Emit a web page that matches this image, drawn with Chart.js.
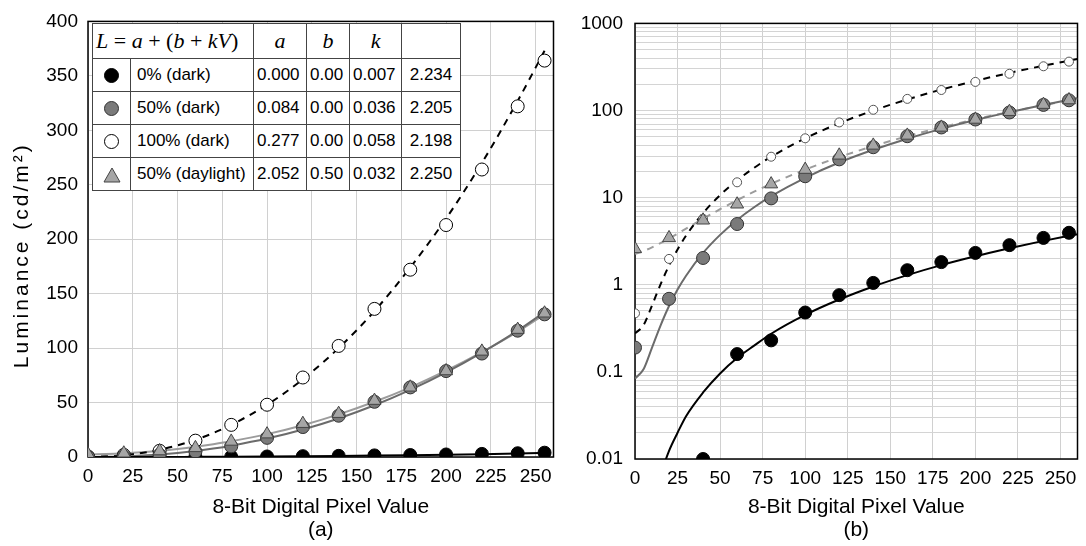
<!DOCTYPE html>
<html>
<head>
<meta charset="utf-8">
<script src="https://cdn.jsdelivr.net/npm/chart.js@4.4.1/dist/chart.umd.min.js"></script>
<style>
  html, body { margin: 0; padding: 0; background: #fff; }
  #wrap { position: relative; width: 1086px; height: 546px; overflow: hidden; font-family: "Liberation Sans", Arial, sans-serif; }
  #leftBox { position: absolute; left: 0; top: 0; width: 562px; height: 546px; }
  #rightBox { position: absolute; left: 562px; top: 0; width: 524px; height: 546px; }
  #legendTable { position: absolute; left: 92px; top: 23px; width: 368px; border-collapse: collapse; table-layout: fixed;
    background: #fff; font-size: 17px; color: #000; }
  #legendTable td { border: 1.5px solid #444; padding: 0 0 0 3px; white-space: nowrap; overflow: hidden; }
  #legendTable tr { height: 33px; }
  #legendTable tr.hdr { height: 35px; }
  #legendTable td.c { text-align: center; padding: 0; }
  #legendTable td.lab { padding-left: 6px; }
  .math { font-family: "Liberation Serif", "DejaVu Serif", serif; font-size: 22px; }
  .math i { font-style: italic; }
  .dot { display: inline-block; width: 13px; height: 13px; border-radius: 50%; border: 1px solid #000; vertical-align: middle; }
</style>
</head>
<body>
<div id="wrap">
  <div id="leftBox"><canvas id="linChart" width="562" height="546"></canvas></div>
  <div id="rightBox"><canvas id="logChart" width="524" height="546"></canvas></div>
  <table id="legendTable">
    <colgroup>
      <col style="width:38px"><col style="width:123px"><col style="width:53px">
      <col style="width:43px"><col style="width:52px"><col style="width:59px">
    </colgroup>
    <tbody id="legendBody">
      <tr class="hdr">
        <td colspan="2" class="math"><i>L</i> = <i>a</i> + (<i>b</i> + <i>kV</i>)</td>
        <td class="math c"><i>a</i></td>
        <td class="math c"><i>b</i></td>
        <td class="math c"><i>k</i></td>
        <td></td>
      </tr>
    </tbody>
  </table>
</div>
<script>
// measured points (pixel value -> luminance)
const xPoints = [0, 20, 40, 60, 80, 100, 120, 140, 160, 180, 200, 220, 240, 255];
const dark0 = [0, 0, 0.01, 0.16, 0.23, 0.48, 0.76, 1.05, 1.47, 1.82, 2.32, 2.85, 3.45, 3.95];
const dark50 = [0.19, 0.69, 2.03, 4.98, 9.8, 17.6, 27.5, 37.9, 50.7, 63.9, 78.9, 95, 116, 131];
const dark100 = [0.47, 1.98, 5.7, 15, 29.5, 48, 73, 102, 136, 172, 213, 264, 322, 364];
const daylight50 = [2.58, 3.45, 5.5, 8.4, 14.3, 21, 30.6, 39.8, 51.8, 64, 79, 97, 117, 132];

// fitted curves
const fitX = [0, 5, 10, 15, 20, 25, 30, 40, 50, 60, 70, 80, 100, 120, 140, 160, 180, 200, 220, 240, 255, 260];
const fit0 = [0, 0.0006, 0.003, 0.0065, 0.0124, 0.02, 0.031, 0.058, 0.096, 0.144, 0.2, 0.274, 0.451, 0.677, 0.956, 1.29, 1.68, 2.12, 2.62, 3.19, 3.65, 3.81];
const fit50 = [0.084, 0.107, 0.19, 0.34, 0.57, 0.88, 1.27, 2.32, 3.74, 5.55, 7.76, 10.4, 16.9, 25.3, 35.4, 47.5, 61.6, 77.7, 95.9, 116, 133, 139];
const fit100 = [0.277, 0.343, 0.58, 1.01, 1.66, 2.54, 3.66, 6.64, 10.7, 15.8, 22, 29.5, 47.9, 71.4, 100, 134, 174, 219, 270, 327, 373, 390];
const fitDay = [2.26, 2.44, 2.69, 3.01, 3.39, 3.86, 4.4, 5.71, 7.36, 9.36, 11.7, 14.4, 21, 29.2, 39.1, 50.7, 64, 79.2, 96.2, 115, 131, 136];

// table
const seriesNames = ["0% (dark)", "50% (dark)", "100% (dark)", "50% (daylight)"];
const paramA = ["0.000", "0.084", "0.277", "2.052"];
const paramB = ["0.00", "0.00", "0.00", "0.50"];
const paramK = ["0.007", "0.036", "0.058", "0.032"];
const paramG = ["2.234", "2.205", "2.198", "2.250"];

// ticks
const xTicks = [0, 25, 50, 75, 100, 125, 150, 175, 200, 225, 250];
const linTicks = [0, 50, 100, 150, 200, 250, 300, 350, 400];
const logTicks = [0.01, 0.1, 1, 10, 100, 1000];

const FONT = '"Liberation Sans", Arial, sans-serif';
Chart.defaults.font.family = FONT;
Chart.defaults.color = "#000";

const markerHtml = [
  '<span class="dot" style="background:#000;border-color:#000"></span>',
  '<span class="dot" style="background:#7a7a7a;border-color:#333"></span>',
  '<span class="dot" style="background:#fff;border-color:#000"></span>',
  '<svg width="18" height="16" viewBox="0 0 18 16" style="vertical-align:middle"><polygon points="9,1 17,15 1,15" fill="#a6a6a6" stroke="#444" stroke-width="1"/></svg>'
];

const body = document.getElementById("legendBody");
seriesNames.forEach((name, i) => {
  const tr = document.createElement("tr");
  tr.innerHTML =
    '<td class="c">' + markerHtml[i] + "</td>" +
    '<td class="lab">' + name + "</td>" +
    "<td>" + paramA[i] + "</td>" +
    "<td>" + paramB[i] + "</td>" +
    "<td>" + paramK[i] + "</td>" +
    '<td class="c">' + paramG[i] + "</td>";
  body.appendChild(tr);
});

function pts(xs, ys, isLog, xMax) {
  const out = [];
  xs.forEach((x, i) => {
    if (x > xMax) return;
    out.push({ x: x, y: isLog && ys[i] <= 0 ? null : ys[i] });
  });
  return out;
}

function buildDatasets(isLog) {
  // the linear panel stops its fitted curves at the last sample
  const fitEnd = isLog ? 260 : 255;
  const markers = [
    { label: seriesNames[3], data: pts(xPoints, daylight50, isLog, 260), pointStyle: "triangle", pointRadius: 7.5,
      pointBackgroundColor: "#a6a6a6", pointBorderColor: "#444" },
    { label: seriesNames[1], data: pts(xPoints, dark50, isLog, 260), pointRadius: 6.5,
      pointBackgroundColor: "#7a7a7a", pointBorderColor: "#333" },
    { label: seriesNames[2], data: pts(xPoints, dark100, isLog, 260), pointRadius: isLog ? 4.5 : 6.5,
      pointBackgroundColor: "#fff", pointBorderColor: isLog ? "#555" : "#000" },
    { label: seriesNames[0], data: pts(xPoints, dark0, isLog, 260), pointRadius: 6.5,
      pointBackgroundColor: "#000", pointBorderColor: "#000" }
  ].map(d => Object.assign({ showLine: false, pointBorderWidth: 1, pointHoverRadius: 0 }, d));

  const fits = [
    { data: pts(fitX, fit0, isLog, fitEnd), borderColor: "#000" },
    { data: pts(fitX, fit50, isLog, fitEnd), borderColor: "#6b6b6b" },
    { data: pts(fitX, fit100, isLog, fitEnd), borderColor: "#000", borderDash: [7, 6] },
    { data: pts(fitX, fitDay, isLog, fitEnd), borderColor: "#9c9c9c", borderDash: isLog ? [7, 6] : [] }
  ].map(d => Object.assign({ showLine: true, pointRadius: 0, pointHoverRadius: 0, borderWidth: 2,
    cubicInterpolationMode: "monotone", fill: false }, d));

  return markers.concat(fits);
}

// black box round the plot area
const framePlugin = {
  id: "frame",
  beforeDatasetsDraw(chart) {
    const { ctx, chartArea: a } = chart;
    ctx.save();
    ctx.strokeStyle = "#000";
    ctx.lineWidth = 1.5;
    ctx.strokeRect(a.left, a.top, a.right - a.left, a.bottom - a.top);
    ctx.restore();
  }
};

// the y title in the original is letter-spaced and sits a little low
const spacedTitlePlugin = {
  id: "spacedTitle",
  beforeDraw(chart) {
    const s = chart.scales.y;
    if (!s || s._spaced) return;
    const orig = s.drawTitle;
    s.drawTitle = function () {
      const ctx = this.ctx;
      ctx.save();
      ctx.letterSpacing = "3px";
      ctx.translate(0, 16);
      orig.apply(this, arguments);
      ctx.restore();
    };
    s._spaced = true;
  }
};

function xScale(letter, axisHeight) {
  return {
    type: "linear", min: 0, max: 260,
    afterBuildTicks: axis => { axis.ticks = xTicks.map(v => ({ value: v })); },
    afterFit: s => { s.height = axisHeight; },
    grid: { color: "#d0d0d0", lineWidth: 1, drawTicks: false },
    border: { display: false },
    ticks: { autoSkip: false, maxRotation: 0, padding: 8, font: { size: 19 } },
    title: { display: true, text: ["8-Bit Digital Pixel Value", letter], font: { size: 21, lineHeight: 1.1 },
      padding: { top: 0, bottom: 4 } }
  };
}

const commonOpts = {
  responsive: false,
  animation: false,
  events: [],
  plugins: { legend: { display: false }, tooltip: { enabled: false } }
};

new Chart(document.getElementById("linChart"), {
  type: "scatter",
  data: { datasets: buildDatasets(false) },
  plugins: [framePlugin, spacedTitlePlugin],
  options: Object.assign({}, commonOpts, {
    layout: { padding: { top: 21, right: 5, left: 0, bottom: 0 } },
    scales: {
      x: xScale("(a)", 89),
      y: {
        type: "linear", min: 0, max: 400,
        afterBuildTicks: axis => { axis.ticks = linTicks.map(v => ({ value: v })); },
        afterFit: s => { s.width = 88; },
        grid: { color: "#d0d0d0", lineWidth: 1, drawTicks: false },
        border: { display: false },
        ticks: { padding: 10, font: { size: 19 } },
        title: { display: true, text: "Luminance (cd/m²)", font: { size: 21 }, padding: { top: 10, bottom: 0 } }
      }
    }
  })
});

const logGrid = [];
logTicks.forEach(t => {
  for (let m = 1; m <= 9; m++) {
    if (t === 1000 && m > 1) break;
    logGrid.push(m === 1 ? t : t * m);
  }
});

new Chart(document.getElementById("logChart"), {
  type: "scatter",
  data: { datasets: buildDatasets(true) },
  plugins: [framePlugin],
  options: Object.assign({}, commonOpts, {
    layout: { padding: { top: 21, right: 2, left: 0, bottom: 0 } },
    scales: {
      x: xScale("(b)", 87),
      y: {
        type: "logarithmic", min: 0.01, max: 1000,
        afterBuildTicks: axis => { axis.ticks = logGrid.map(v => ({ value: v, major: logTicks.includes(v) })); },
        afterFit: s => { s.width = 73; },
        grid: { color: "#d4d4d4", lineWidth: 1, drawTicks: false },
        border: { display: false },
        ticks: { autoSkip: false, padding: 12, font: { size: 19 },
          callback: v => (logTicks.includes(v) ? String(v) : "") }
      }
    }
  })
});
</script>
</body>
</html>
